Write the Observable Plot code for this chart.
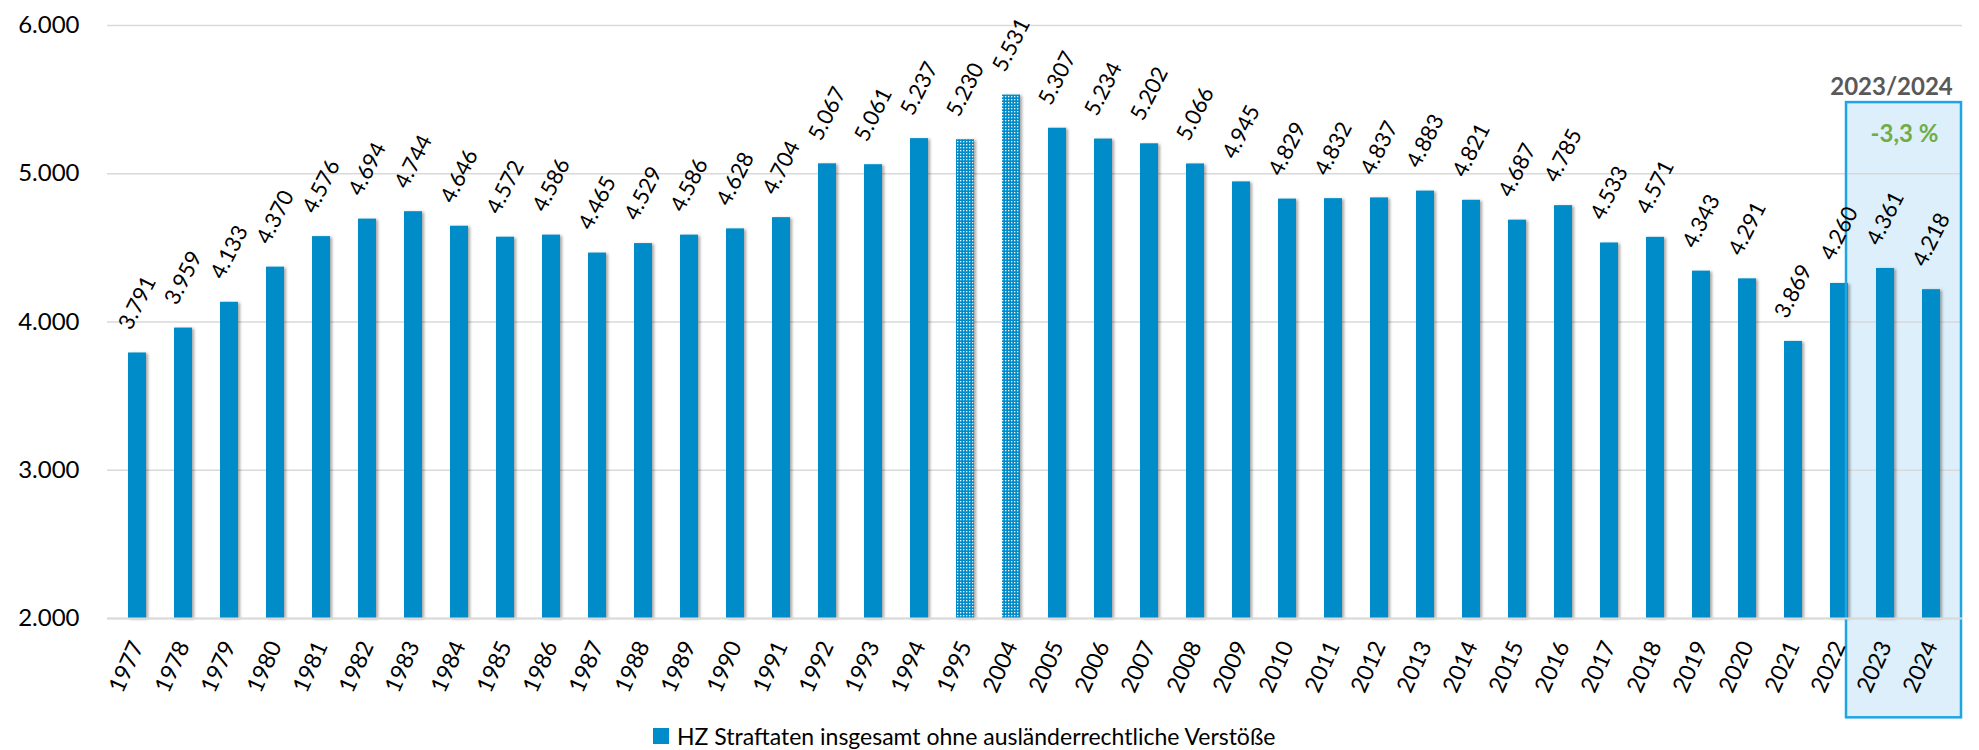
<!DOCTYPE html>
<html>
<head>
<meta charset="utf-8">
<script src="https://cdn.jsdelivr.net/npm/d3@7"></script>
<script src="https://cdn.jsdelivr.net/npm/@observablehq/plot@0.6"></script>
<style>
  html, body { margin: 0; padding: 0; background: #fff; }
  body { width: 1979px; height: 750px; overflow: hidden; font-family: Lato, "Open Sans", sans-serif; }
  #chart svg { display: block; overflow: visible; }
  .legend { display: flex; align-items: center; margin-left: 653px; height: 28px; font-size: 23px; color: #000; }
  .legend .sw { width: 16px; height: 16px; background: #008cc8; margin-right: 8px; }
</style>
</head>
<body>
<div id="chart"></div>
<div class="legend"><span class="sw"></span><span id="legtext"></span></div>
<script>
// ---- data ----
const years = ["1977","1978","1979","1980","1981","1982","1983","1984","1985","1986","1987","1988","1989","1990","1991","1992","1993","1994","1995","2004","2005","2006","2007","2008","2009","2010","2011","2012","2013","2014","2015","2016","2017","2018","2019","2020","2021","2022","2023","2024"];
const values = [3791,3959,4133,4370,4576,4694,4744,4646,4572,4586,4465,4529,4586,4628,4704,5067,5061,5237,5230,5531,5307,5234,5202,5066,4945,4829,4832,4837,4883,4821,4687,4785,4533,4571,4343,4291,3869,4260,4361,4218];
const patternYears = ["1995","2004"];
const highlightYears = ["2023"];
const highlightRange = [1330, 5480];
const yTicks = [2000,3000,4000,5000,6000];
const seriesLabel = "HZ Straftaten insgesamt ohne ausländerrechtliche Verstöße";
const periodLabel = "2023/2024";
const changeLabel = "-3,3 %";

const barColor = "#008cc8";
const de = d3.formatLocale({decimal: ",", thousands: ".", grouping: [3], currency: ["", " €"]});
const fmt = de.format(",d");

const rows = years.map((year, i) => ({year, value: values[i], pattern: patternYears.includes(year)}));
const solid = rows.filter(d => !d.pattern);
const patterned = rows.filter(d => d.pattern);
const hl = highlightYears.map(year => ({year}));

const plot = Plot.plot({
  width: 1979,
  height: 722,
  marginLeft: 107,
  marginRight: 17,
  marginTop: 25,
  marginBottom: 104,
  style: {fontFamily: "Lato, 'Open Sans', sans-serif", fontSize: "24px", color: "#000", background: "white", overflow: "visible"},
  x: {domain: years, paddingInner: 0.6, paddingOuter: 0.3, label: null},
  y: {domain: [2000, 6000], label: null},
  marks: [
    Plot.barY(hl, {x: "year", y1: highlightRange[0], y2: highlightRange[1], fill: "#ddeffa", insetLeft: -30, insetRight: -67}),
    Plot.gridY(yTicks, {stroke: "#d9d9d9", strokeOpacity: 1, strokeWidth: 1.5}),
    Plot.barY(solid, {x: "year", y1: 2000, y2: "value", fill: barColor}),
    Plot.barY(patterned, {x: "year", y1: 2000, y2: "value", fill: barColor}),
    Plot.barY(hl, {x: "year", y1: highlightRange[0], y2: highlightRange[1], fill: "none", stroke: "#1ea5e4", strokeWidth: 2.5, insetLeft: -30, insetRight: -67}),
    Plot.text(rows, {x: "year", y: "value", text: d => fmt(d.value), rotate: -63, textAnchor: "middle", dy: -50, fontSize: 22, fill: "#000"}),
    Plot.text(hl, {x: "year", frameAnchor: "top", text: () => periodLabel, dx: 6, dy: 52, fontSize: 24, fontWeight: "bold", fill: "#595959"}),
    Plot.text(hl, {x: "year", frameAnchor: "top", text: () => changeLabel, dx: 19, dy: 99, fontSize: 24, fontWeight: "bold", fill: "#70ad47"}),
    Plot.axisY({ticks: yTicks, tickFormat: fmt, tickSize: 0, tickPadding: 28, label: null, fontSize: 24}),
    Plot.axisX({tickSize: 0, tickRotate: -66, tickPadding: 24, label: null, fontSize: 23}),
    Plot.ruleY([2000], {stroke: "#d9d9d9", strokeWidth: 2})
  ]
});

// defs: dotted pattern and soft shadow
const svg = d3.select(plot);
const defs = svg.insert("defs", ":first-child");
const pat = defs.append("pattern").attr("id", "dots").attr("patternUnits", "userSpaceOnUse").attr("width", 3).attr("height", 3);
pat.append("rect").attr("width", 3).attr("height", 3).attr("fill", barColor);
pat.append("rect").attr("x", 0).attr("y", 0).attr("width", 1.3).attr("height", 1.3).attr("fill", "#fff");
const f = defs.append("filter").attr("id", "shadow").attr("x", "-30%").attr("y", "-5%").attr("width", "160%").attr("height", "110%");
f.append("feDropShadow").attr("dx", 2).attr("dy", 1).attr("stdDeviation", 1.8).attr("flood-color", "#000").attr("flood-opacity", 0.35);

const barGroups = svg.selectAll('g[aria-label="bar"]').nodes();
// order: highlight fill, solid bars, patterned bars, highlight frame
d3.select(barGroups[1]).selectAll("rect").attr("filter", "url(#shadow)");
d3.select(barGroups[2]).selectAll("rect").attr("fill", "url(#dots)").attr("filter", "url(#shadow)");

document.getElementById("chart").appendChild(plot);
document.getElementById("legtext").textContent = seriesLabel;
</script>
</body>
</html>
